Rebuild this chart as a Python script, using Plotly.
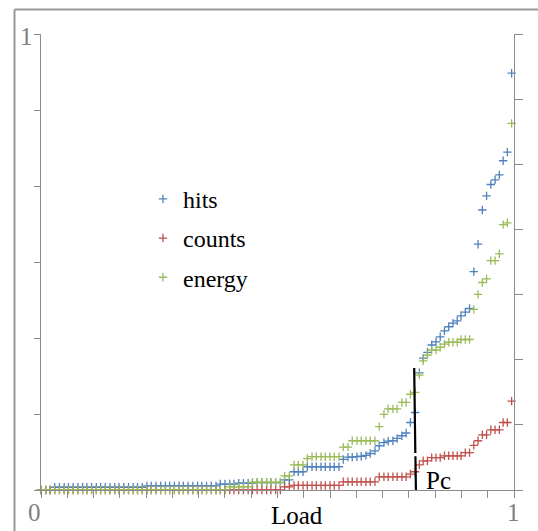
import plotly.graph_objects as go

# ---- data ----
load = [0.000, 0.010, 0.019, 0.029, 0.039, 0.049, 0.058, 0.068, 0.078, 0.088,
        0.097, 0.107, 0.117, 0.126, 0.136, 0.146, 0.156, 0.165, 0.175, 0.185,
        0.195, 0.204, 0.214, 0.224, 0.233, 0.243, 0.253, 0.263, 0.272, 0.282,
        0.292, 0.301, 0.311, 0.321, 0.331, 0.340, 0.350, 0.360, 0.370, 0.379,
        0.389, 0.399, 0.408, 0.418, 0.428, 0.438, 0.447, 0.457, 0.467, 0.477,
        0.486, 0.496, 0.506, 0.515, 0.525, 0.535, 0.544, 0.554, 0.563, 0.573,
        0.582, 0.592, 0.601, 0.611, 0.620, 0.630, 0.639, 0.649, 0.658, 0.668,
        0.677, 0.687, 0.696, 0.706, 0.715, 0.725, 0.734, 0.744, 0.753, 0.763,
        0.772, 0.781, 0.791, 0.800, 0.808, 0.817, 0.826, 0.835, 0.844, 0.853,
        0.862, 0.871, 0.880, 0.888, 0.897, 0.906, 0.915, 0.924, 0.933, 0.942,
        0.951, 0.960, 0.969, 0.977, 0.986, 0.995]

hits = [0.0, 0.0, 0.0, 0.006, 0.006, 0.006, 0.006, 0.006, 0.006, 0.006,
        0.006, 0.006, 0.006, 0.006, 0.006, 0.006, 0.006, 0.006, 0.006, 0.006,
        0.006, 0.006, 0.006, 0.009, 0.009, 0.009, 0.009, 0.009, 0.009, 0.009,
        0.009, 0.009, 0.009, 0.009, 0.009, 0.009, 0.009, 0.009, 0.009, 0.013,
        0.013, 0.013, 0.013, 0.015, 0.015, 0.015, 0.015, 0.016, 0.016, 0.016,
        0.016, 0.016, 0.016, 0.022, 0.022, 0.040, 0.040, 0.040, 0.051, 0.051,
        0.051, 0.051, 0.051, 0.051, 0.051, 0.051, 0.067, 0.072, 0.072, 0.073,
        0.074, 0.076, 0.080, 0.086, 0.097, 0.104, 0.107, 0.108, 0.113, 0.119,
        0.125, 0.148, 0.170, 0.257, 0.289, 0.302, 0.318, 0.325, 0.336, 0.349,
        0.358, 0.366, 0.371, 0.382, 0.390, 0.398, 0.479, 0.539, 0.614, 0.645,
        0.670, 0.680, 0.691, 0.722, 0.741, 0.914]

counts = [0.0, 0.0, 0.0, 0.0, 0.0, 0.0, 0.0, 0.0, 0.0, 0.0,
          0.0, 0.0, 0.0, 0.0, 0.0, 0.0, 0.0, 0.0, 0.0, 0.0,
          0.0, 0.0, 0.0, 0.0, 0.0, 0.0, 0.0, 0.0, 0.0, 0.0,
          0.0, 0.0, 0.0, 0.0, 0.0, 0.0, 0.0, 0.0, 0.0, 0.0,
          0.0, 0.0, 0.0, 0.0, 0.0, 0.0, 0.0, 0.0, 0.0, 0.0,
          0.0, 0.0, 0.0, 0.007, 0.007, 0.010, 0.010, 0.010, 0.010, 0.010,
          0.010, 0.010, 0.010, 0.010, 0.010, 0.010, 0.018, 0.018, 0.018, 0.018,
          0.018, 0.018, 0.018, 0.018, 0.029, 0.029, 0.029, 0.029, 0.029, 0.029,
          0.029, 0.035, 0.040, 0.055, 0.064, 0.064, 0.071, 0.071, 0.071, 0.075,
          0.075, 0.075, 0.075, 0.075, 0.082, 0.082, 0.098, 0.108, 0.121, 0.121,
          0.132, 0.132, 0.132, 0.148, 0.148, 0.195]

energy = [0.0, 0.0, 0.0, 0.0, 0.0, 0.0, 0.0, 0.0, 0.0, 0.0,
          0.0, 0.0, 0.0, 0.0, 0.0, 0.0, 0.0, 0.0, 0.0, 0.0,
          0.0, 0.0, 0.0, 0.0, 0.0, 0.0, 0.0, 0.0, 0.0, 0.0,
          0.0, 0.0, 0.0, 0.0, 0.0, 0.0, 0.0, 0.0, 0.0, 0.0,
          0.0, 0.007, 0.007, 0.007, 0.007, 0.007, 0.017, 0.017, 0.017, 0.017,
          0.017, 0.017, 0.017, 0.031, 0.031, 0.055, 0.055, 0.055, 0.069, 0.073,
          0.073, 0.073, 0.073, 0.073, 0.073, 0.073, 0.094, 0.094, 0.108, 0.108,
          0.108, 0.108, 0.108, 0.108, 0.139, 0.166, 0.178, 0.178, 0.178, 0.192,
          0.192, 0.210, 0.214, 0.252, 0.283, 0.296, 0.307, 0.307, 0.313, 0.320,
          0.324, 0.324, 0.324, 0.330, 0.330, 0.330, 0.396, 0.429, 0.455, 0.463,
          0.503, 0.503, 0.518, 0.582, 0.586, 0.804]

series_names = ["hits", "counts", "energy"]
series_values = [hits, counts, energy]
series_colors = ["#4F81BD", "#C0504D", "#9BBB59"]

pc_load = 0.7907          # critical load marker position
pc_top = 0.2675
left_ticks = [0, 1/6, 2/6, 3/6, 4/6, 5/6, 1]
right_ticks = [0, 1/7, 2/7, 3/7, 4/7, 5/7, 6/7, 1]
x_ticks = [k / 18 for k in range(19)]

SERIF = "Liberation Serif, Times New Roman, serif"
AXIS_GRAY = "#8C8C8C"

fig = go.Figure()
for name, vals, col in zip(series_names, series_values, series_colors):
    fig.add_trace(go.Scatter(
        x=load, y=vals, mode="markers", name=name, legendgroup=name,
        marker=dict(symbol="cross-thin", size=6, color=col,
                    line=dict(color=col, width=1.3)),
        cliponaxis=False,
    ))

# invisible trace to carry the right-hand axis
fig.add_trace(go.Scatter(x=[], y=[], yaxis="y2", showlegend=False, hoverinfo="skip"))

fig.update_layout(
    width=538, height=531,
    margin=dict(l=41, r=24, t=34, b=41, pad=0),
    paper_bgcolor="white", plot_bgcolor="white",
    showlegend=True,
    legend=dict(x=0.2156, y=0.687, xanchor="left", yanchor="top",
                font=dict(family=SERIF, size=24, color="black"),
                bgcolor="rgba(0,0,0,0)", borderwidth=0,
                traceorder="grouped", tracegroupgap=5, itemwidth=30),
    xaxis=dict(range=[0, 1], showgrid=False, zeroline=False,
               showline=True, linecolor=AXIS_GRAY, linewidth=1.3,
               tickmode="array", tickvals=x_ticks, ticks="outside",
               ticklen=7, tickcolor=AXIS_GRAY, tickwidth=1.3,
               showticklabels=False),
    yaxis=dict(range=[0, 1], showgrid=False, zeroline=False,
               showline=True, linecolor=AXIS_GRAY, linewidth=1.3,
               tickmode="array", tickvals=left_ticks, ticks="outside",
               ticklen=6, tickcolor=AXIS_GRAY, tickwidth=1.3,
               showticklabels=False),
    yaxis2=dict(range=[0, 1], overlaying="y", side="right", anchor="x",
                showgrid=False, zeroline=False,
                showline=True, linecolor=AXIS_GRAY, linewidth=1.3,
                tickmode="array", tickvals=right_ticks, ticks="outside",
                ticklen=8, tickcolor=AXIS_GRAY, tickwidth=1.3,
                showticklabels=False),
)

# outer frame (top and left edges visible)
fig.add_shape(type="line", xref="paper", yref="paper",
              x0=-0.056, x1=1.2, y0=1.0537, y1=1.0537,
              line=dict(color="#9A9A9A", width=2))
fig.add_shape(type="line", xref="paper", yref="paper",
              x0=-0.056, x1=-0.056, y0=1.0537, y1=-0.2,
              line=dict(color="#9A9A9A", width=2))

# Pc marker line (two segments with a small break)
fig.add_shape(type="line", xref="x", yref="y",
              x0=pc_load - 0.0017, x1=pc_load + 0.0007, y0=pc_top, y1=0.081,
              line=dict(color="black", width=2.2))
fig.add_shape(type="line", xref="x", yref="y",
              x0=pc_load + 0.0009, x1=pc_load + 0.002, y0=0.074, y1=-0.007,
              line=dict(color="black", width=2.2))

annos = [
    dict(text="Pc", x=pc_load + 0.02, y=0.02, xref="x", yref="y",
         xanchor="left", yanchor="middle",
         font=dict(family=SERIF, size=25, color="black")),
    dict(text="Load", x=0.541, y=-0.0895, xref="paper", yref="paper",
         xanchor="center", yanchor="bottom",
         font=dict(family=SERIF, size=25, color="black")),
    dict(text="0", x=-0.0127, y=-0.0493, xref="paper", yref="paper",
         xanchor="center", yanchor="middle",
         font=dict(family=SERIF, size=25, color="#808080")),
    dict(text="1", x=0.998, y=-0.0493, xref="paper", yref="paper",
         xanchor="center", yanchor="middle",
         font=dict(family=SERIF, size=25, color="#808080")),
    dict(text="1", x=-0.0317, y=0.9945, xref="paper", yref="paper",
         xanchor="center", yanchor="middle",
         font=dict(family=SERIF, size=25, color="#808080")),
]
for a in annos:
    fig.add_annotation(showarrow=False, **a)

fig.write_html("out.html")
